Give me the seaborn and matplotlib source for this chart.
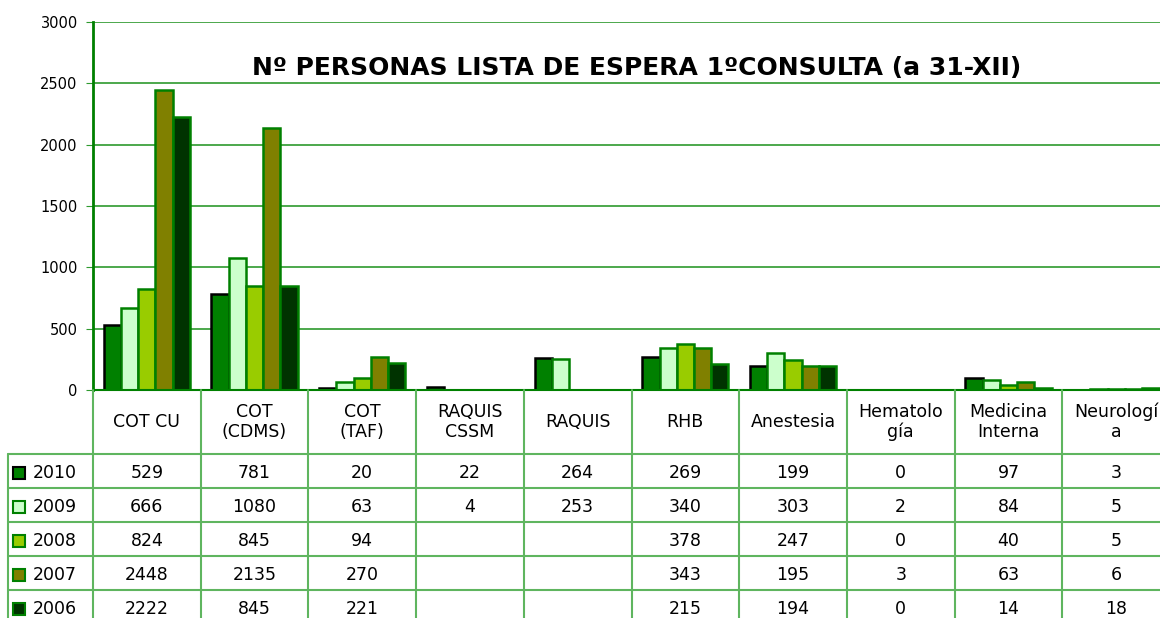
import numpy as np
import pandas as pd
import matplotlib
matplotlib.use('Agg')
import matplotlib.pyplot as plt
import seaborn as sns

categories = ['COT CU', 'COT\n(CDMS)', 'COT\n(TAF)', 'RAQUIS\nCSSM', 'RAQUIS',
              'RHB', 'Anestesia', 'Hematolo\ngía', 'Medicina\nInterna', 'Neurologí\na']
years = ['2010', '2009', '2008', '2007', '2006']
v2010 = [529, 781, 20, 22, 264, 269, 199, 0, 97, 3]
v2009 = [666, 1080, 63, 4, 253, 340, 303, 2, 84, 5]
v2008 = [824, 845, 94, np.nan, np.nan, 378, 247, 0, 40, 5]
v2007 = [2448, 2135, 270, np.nan, np.nan, 343, 195, 3, 63, 6]
v2006 = [2222, 845, 221, np.nan, np.nan, 215, 194, 0, 14, 18]
series = [v2010, v2009, v2008, v2007, v2006]

fills = ['#008000', '#CCFFCC', '#99CC00', '#808000', '#003300']
edges = ['#000000', '#008000', '#008000', '#008000', '#008000']
grid_green = '#2E9A2E'
table_green = '#5FB55F'

rows = []
for yr, vals in zip(years, series):
    for cat, v in zip(categories, vals):
        if not np.isnan(v):
            rows.append({'cat': cat, 'year': yr, 'value': v})
df = pd.DataFrame(rows)

sns.set_style('white')
plt.rcParams['font.family'] = ['DejaVu Sans']
plt.rcParams['text.color'] = 'black'

W, H = 1160, 618
fig = plt.figure(figsize=(W / 100, H / 100), dpi=100)
ax = fig.add_axes([93 / W, 1 - 390 / H, 1077 / W, (390 - 22) / H])

sns.barplot(data=df, x='cat', y='value', hue='year', order=categories,
            hue_order=years, palette=fills, width=0.8, ax=ax, legend=False,
            saturation=1, linewidth=1.8)
for cont, ec in zip(ax.containers, edges):
    for bar in cont:
        bar.set_edgecolor(ec)

ax.set_xlim(-0.5, 9.5)
ax.set_ylim(0, 3000)
ax.set_yticks(range(0, 3001, 500))
ax.yaxis.grid(True, color=grid_green, linewidth=1.2)
ax.set_axisbelow(True)
ax.set_xticks([])
ax.set_xlabel('')
ax.set_ylabel('')
ax.tick_params(axis='y', labelsize=10.5, length=5, color=grid_green, left=True,
               pad=6, labelcolor='black')
for s in ['top', 'right']:
    ax.spines[s].set_visible(False)
ax.spines['left'].set_color('#008000')
ax.spines['left'].set_linewidth(2)
ax.spines['bottom'].set_color('#008000')
ax.spines['bottom'].set_linewidth(1.5)

ax.text(0.505, 0.875, 'Nº PERSONAS LISTA DE ESPERA 1ºCONSULTA (a 31-XII)',
        transform=ax.transAxes, ha='center', va='center', fontsize=18,
        fontweight='bold', color='black')

# Data table below the plot
tab = fig.add_axes([93 / W, 0, 1077 / W, 228 / H])
tab.set_xlim(-0.5, 9.5)
tab.set_ylim(228, 0)
tab.axis('off')
px = 1077 / 10  # pixels per category
label_left = -0.5 - 85 / px
head_h, row_h = 64, 34

for i in range(len(categories) + 1):
    tab.plot([i - 0.5, i - 0.5], [0, 240], color=table_green, lw=1.5,
             clip_on=False)
tab.plot([label_left, label_left], [head_h, 240], color=table_green, lw=1.5,
         clip_on=False)
for r in range(len(years) + 1):
    y = head_h + r * row_h
    tab.plot([label_left, 9.5], [y, y], color=table_green, lw=1.5,
             clip_on=False)

for i, cat in enumerate(categories):
    tab.text(i, head_h / 2, cat, ha='center', va='center', fontsize=12.5,
             linespacing=1.15, color='black')

for r, (yr, vals) in enumerate(zip(years, series)):
    yc = head_h + r * row_h + row_h / 2 + 2
    tab.plot([-0.5 - 74 / px], [yc], marker='s', markersize=9,
             markerfacecolor=fills[r], markeredgecolor=edges[r],
             markeredgewidth=1.5, clip_on=False)
    tab.text(-0.5 - 60 / px, yc, yr, ha='left', va='center', fontsize=12.5,
             color='black')
    for i, v in enumerate(vals):
        if not np.isnan(v):
            tab.text(i, yc, f'{int(v)}', ha='center', va='center',
                     fontsize=12.5, color='black')

fig.savefig('out.png', dpi=100)
